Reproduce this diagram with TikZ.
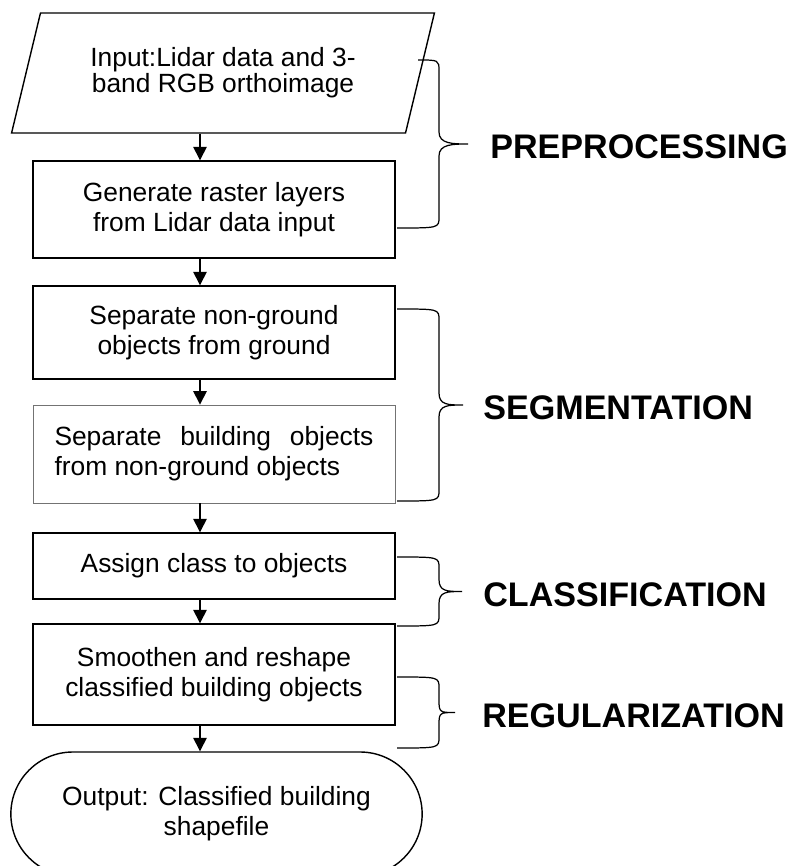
\documentclass[tikz,border=0pt]{standalone}
\usepackage{fontspec}
\setmainfont{Liberation Sans}
\usetikzlibrary{positioning, shapes.geometric, shapes.misc, arrows.meta}

\begin{document}
\begin{tikzpicture}[
    process/.style={rectangle, draw, line width=0.8pt,
                    minimum width=7.24cm, inner sep=2pt,
                    align=center, font=\fontsize{15}{17}\selectfont},
    io/.style={trapezium, trapezium left angle=70.7, trapezium right angle=109.3,
               trapezium stretches=true, draw, line width=0.8pt,
               minimum width=8.48cm, minimum height=2.4cm,
               align=center, font=\fontsize{15}{13.6}\selectfont},
    terminal/.style={rounded rectangle, draw, line width=0.8pt,
                     minimum width=8.46cm, minimum height=2.48cm,
                     align=center, font=\fontsize{15}{17}\selectfont},
    arrow/.style={-{Triangle[width=0.27cm, length=0.27cm]}, line width=0.8pt},
    brace/.style={line width=0.7pt},
    phase/.style={anchor=west, inner sep=0pt,
                  font=\fontsize{19.4}{23}\selectfont\bfseries},
  ]
    \path[use as bounding box, clip] (0,0) rectangle (15.92,-17.32);

    % Flow chart
    \node[io] (INPUT) at (4.46,-1.46)
         {Input:Lidar data and 3-\\band RGB orthoimage};
    \node[process, minimum height=1.94cm] (RASTER) at (4.28,-4.19)
         {Generate raster layers\\from Lidar data input};
    \node[process, minimum height=1.86cm] (NONGROUND) at (4.28,-6.65)
         {Separate non-ground\\objects from ground};
    \node[process, minimum height=1.96cm, draw=black!55, line width=0.5pt,
          align=left] (BUILDING) at (4.28,-9.08)
         {\makebox[6.38cm][s]{Separate building objects}\\from non-ground objects};
    \node[process, minimum height=1.32cm] (CLASSIFY) at (4.28,-11.32)
         {Assign class to objects};
    \node[process, minimum height=2.02cm] (SMOOTH) at (4.28,-13.49)
         {Smoothen and reshape\\classified building objects};
    \node[terminal] (OUTPUT) at (4.33,-16.28)
         {Output: Classified building\\shapefile};

    \coordinate (spine) at (4,0);
    \draw[arrow] (INPUT.south -| spine) -- (RASTER.north -| spine);
    \draw[arrow] (RASTER.south -| spine) -- (NONGROUND.north -| spine);
    \draw[arrow] (NONGROUND.south -| spine) -- (BUILDING.north -| spine);
    \draw[arrow] (BUILDING.south -| spine) -- (CLASSIFY.north -| spine);
    \draw[arrow] (CLASSIFY.south -| spine) -- (SMOOTH.north -| spine);
    \draw[arrow] (SMOOTH.south -| spine) -- (OUTPUT.north -| spine);

    % Stages
    \foreach \yt/\yb/\xs/\xt/\xl/\nm/\txt in {
        -1.2/-4.56/8.36/9.36/9.80/PRE/PREPROCESSING,
        -6.18/-10.02/7.94/9.26/9.66/SEG/SEGMENTATION,
        -11.14/-12.52/7.94/9.24/9.66/CLS/CLASSIFICATION,
        -13.54/-14.96/7.94/9.10/9.64/REG/REGULARIZATION}{
      \pgfmathsetmacro{\ym}{(\yt+\yb)/2}
      \draw[brace] (\xs,\yt) .. controls (8.78,\yt) .. (8.78,{\yt-0.22})
          -- (8.78,{\ym+0.24}) .. controls (8.78,\ym) and ({\xt-0.3},\ym) .. (\xt,\ym)
          .. controls ({\xt-0.3},\ym) and (8.78,\ym) .. (8.78,{\ym-0.24})
          -- (8.78,{\yb+0.22}) .. controls (8.78,\yb) .. (7.94,\yb);
      \node[phase] (\nm) at (\xl,{\ym-0.06}) {\txt};
    }
  \end{tikzpicture}
\end{document}
